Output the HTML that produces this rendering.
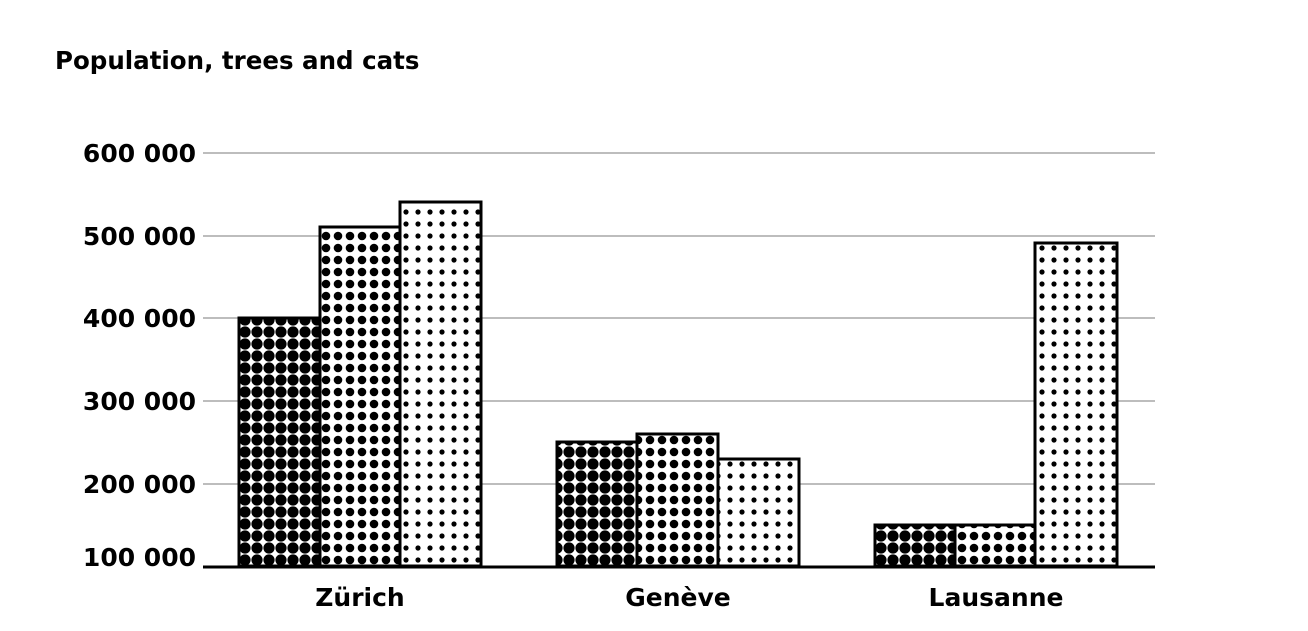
<!DOCTYPE html>
<html><head><meta charset="utf-8"><style>
html,body{margin:0;padding:0;background:#fff;width:1308px;height:631px;overflow:hidden}
text{font-family:"DejaVu Sans","Liberation Sans",sans-serif;fill:#000;font-weight:bold}
</style></head><body>
<svg width="1308" height="631" xmlns="http://www.w3.org/2000/svg">
<defs>
<pattern id="p1" patternUnits="userSpaceOnUse" width="12" height="12" x="239" y="566"><rect width="12" height="12" fill="#fff"/><circle cx="6" cy="6" r="5.6" fill="#000"/></pattern>
<pattern id="p2" patternUnits="userSpaceOnUse" width="12" height="12" x="320" y="566"><rect width="12" height="12" fill="#fff"/><circle cx="6" cy="6" r="4.3" fill="#000"/></pattern>
<pattern id="p3" patternUnits="userSpaceOnUse" width="12" height="12" x="400" y="566"><rect width="12" height="12" fill="#fff"/><circle cx="6" cy="6" r="2.6" fill="#000"/></pattern>
</defs>
<text x="55" y="69" font-size="24.5">Population, trees and cats</text>
<g stroke="#bdbdbd" stroke-width="2">
<line x1="203" x2="1155" y1="153" y2="153"/><line x1="203" x2="1155" y1="236" y2="236"/>
<line x1="203" x2="1155" y1="318" y2="318"/><line x1="203" x2="1155" y1="401" y2="401"/>
<line x1="203" x2="1155" y1="484" y2="484"/>
</g>
<g font-size="25" text-anchor="end">
<text x="196" y="162">600 000</text><text x="196" y="245">500 000</text>
<text x="196" y="327">400 000</text><text x="196" y="410">300 000</text>
<text x="196" y="493">200 000</text><text x="196" y="566">100 000</text>
</g>
<g stroke="#000" stroke-width="3">
<rect x="239" y="318" width="81" height="248" fill="url(#p1)"/>
<rect x="320" y="227" width="80" height="339" fill="url(#p2)"/>
<rect x="400" y="202" width="81" height="364" fill="url(#p3)"/>
<rect x="557" y="442" width="80" height="124" fill="url(#p1)"/>
<rect x="637" y="434" width="81" height="132" fill="url(#p2)"/>
<rect x="718" y="459" width="81" height="107" fill="url(#p3)"/>
<rect x="875" y="525" width="80" height="41" fill="url(#p1)"/>
<rect x="955" y="525" width="80" height="41" fill="url(#p2)"/>
<rect x="1035" y="243" width="82" height="323" fill="url(#p3)"/>
</g>
<line x1="203" x2="1155" y1="567" y2="567" stroke="#000" stroke-width="3"/>
<g font-size="25" text-anchor="middle">
<text x="360" y="606">Zürich</text><text x="678" y="606">Genève</text><text x="996" y="606">Lausanne</text>
</g>
</svg>
</body></html>
